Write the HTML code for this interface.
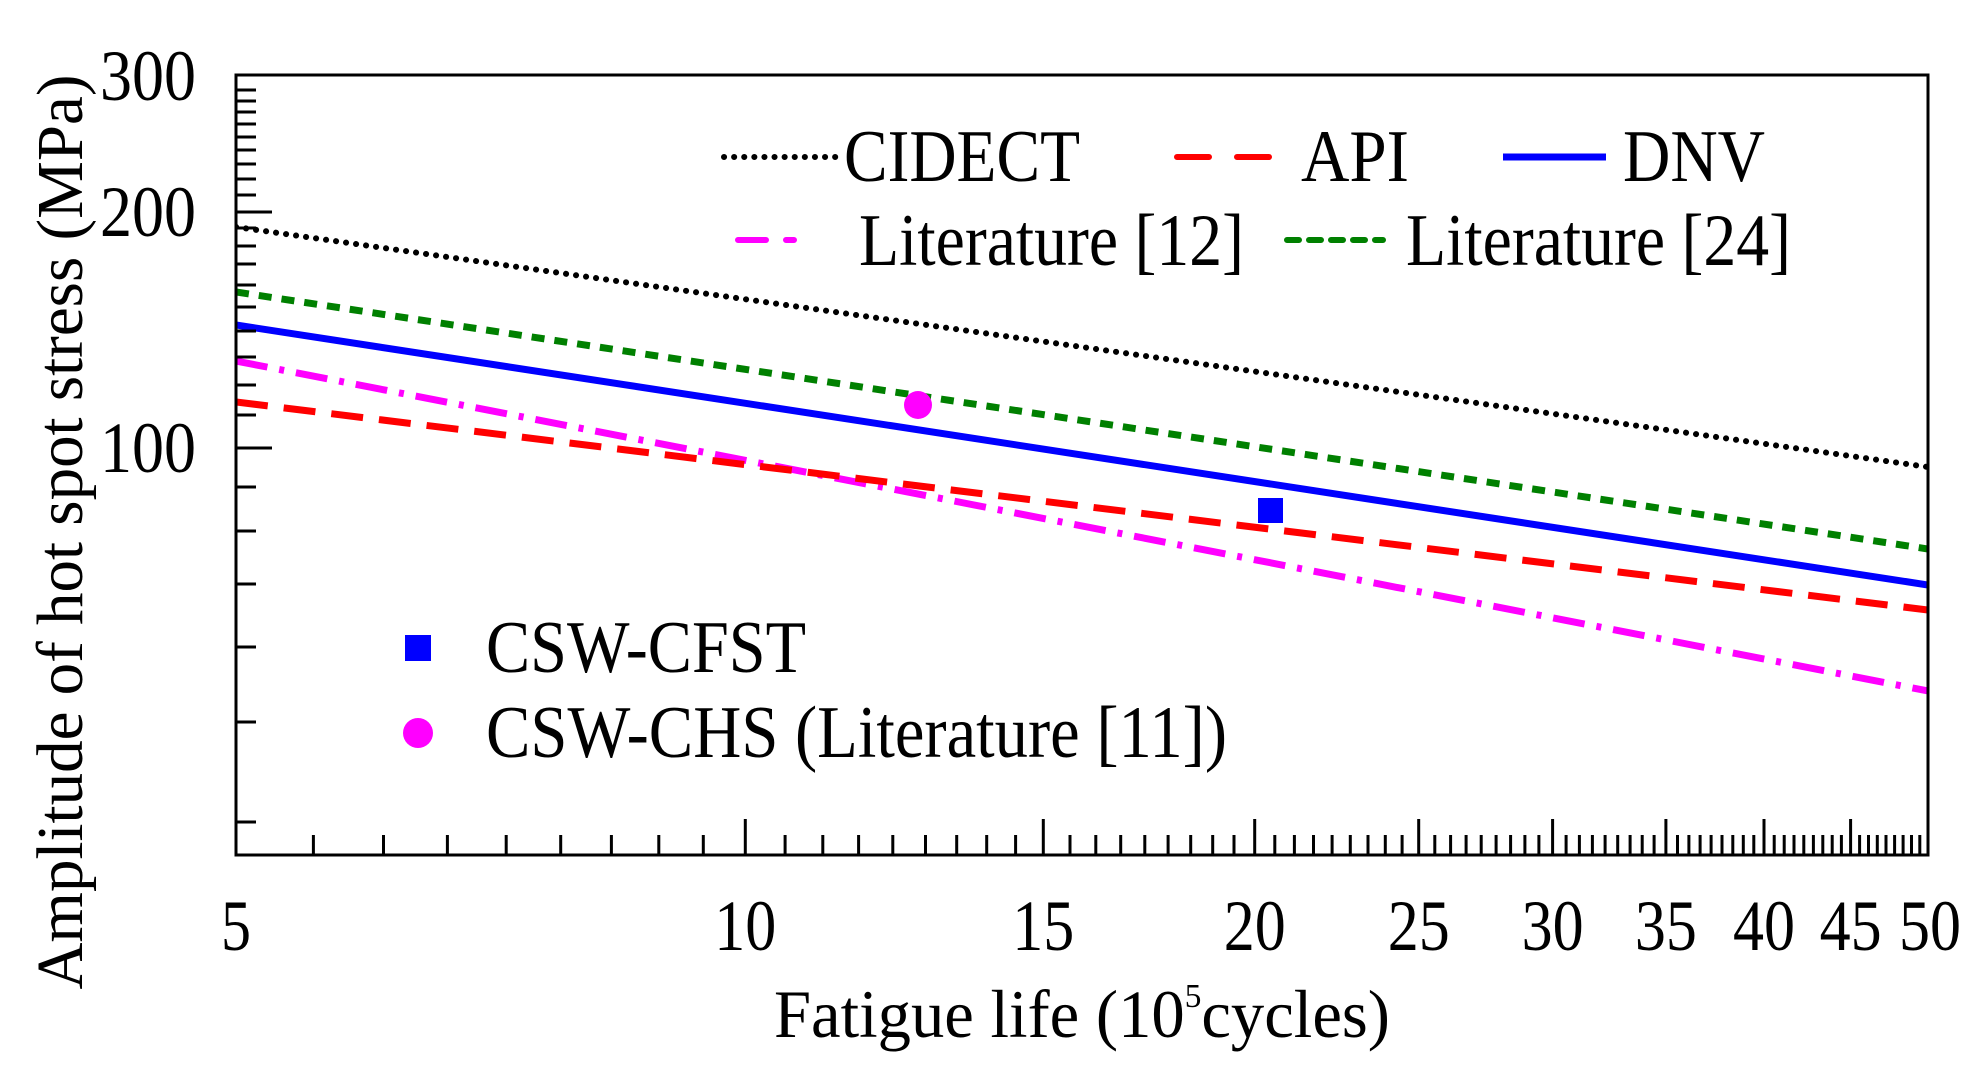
<!DOCTYPE html>
<html><head><meta charset="utf-8"><style>html,body{margin:0;padding:0;background:#fff}svg{display:block}</style></head>
<body>
<svg width="1980" height="1068" viewBox="0 0 1980 1068" xmlns="http://www.w3.org/2000/svg" font-family="Liberation Serif, serif" fill="#000">
<defs><clipPath id="c"><rect x="236" y="75" width="1692" height="780"/></clipPath></defs>
<g clip-path="url(#c)" fill="none" stroke-width="6">
<line x1="236" y1="227" x2="1928" y2="467" stroke="#000" stroke-dasharray="0.1 10" stroke-linecap="round" stroke-width="6"/>
<line x1="236" y1="292" x2="1928" y2="549" stroke="#008000" stroke-dasharray="13 10" stroke-width="7"/>
<line x1="236" y1="325" x2="1928" y2="585" stroke="#0000ff" stroke-width="7"/>
<line x1="236" y1="361" x2="1928" y2="691" stroke="#ff00ff" stroke-dasharray="32 12 5 12" stroke-width="7"/>
<line x1="236" y1="402" x2="1928" y2="610" stroke="#ff0000" stroke-dasharray="32 16" stroke-width="7"/>
</g>
<circle cx="918" cy="405" r="14" fill="#ff00ff"/>
<rect x="1258" y="498" width="25" height="25" fill="#0000ff"/>
<g stroke="#000" stroke-width="3">
<path d="M236 448h36M236 212h36
M236 487h20M236 531h20M236 584h20M236 647h20M236 722h20M236 822h20
M236 415h20M236 385h20M236 357h20M236 331h20M236 307h20M236 285h20M236 264h20M236 246h20M236 228h20
M236 195h20M236 179h20M236 164h20M236 150h20M236 137h20M236 124h20M236 112h20M236 101h20M236 90h20"/>
<path id="xt" d=""/>
</g>
<rect x="236" y="75" width="1692" height="780" fill="none" stroke="#000" stroke-width="3"/>
<g font-size="72" text-anchor="end">
<text x="196" y="100" textLength="96" lengthAdjust="spacingAndGlyphs">300</text>
<text x="196" y="236" textLength="96" lengthAdjust="spacingAndGlyphs">200</text>
<text x="196" y="472" textLength="96" lengthAdjust="spacingAndGlyphs">100</text>
</g>
<g font-size="72" id="xl"></g>
<text x="1082" y="1037" font-size="68" text-anchor="middle" textLength="616" lengthAdjust="spacingAndGlyphs">Fatigue life (10<tspan font-size="34" dy="-30">5</tspan><tspan dy="30">cycles)</tspan></text>
<text transform="translate(82,532) rotate(-90)" font-size="66" text-anchor="middle" textLength="915" lengthAdjust="spacingAndGlyphs">Amplitude of hot spot stress (MPa)</text>
<g fill="none" stroke-width="6">
<line x1="724" y1="157" x2="836" y2="157" stroke="#000" stroke-dasharray="0.1 10" stroke-linecap="round"/>
<line x1="1177" y1="157" x2="1269" y2="157" stroke="#ff0000" stroke-dasharray="32 28" stroke-linecap="round"/>
<line x1="1503" y1="157" x2="1606" y2="157" stroke="#0000ff" stroke-width="7"/>
<line x1="738" y1="240" x2="796" y2="240" stroke="#ff00ff" stroke-dasharray="28 20 8 40" stroke-linecap="round"/>
<line x1="1287" y1="240" x2="1383" y2="240" stroke="#008000" stroke-dasharray="12 10" stroke-linecap="round"/>
</g>
<g font-size="74">
<text x="844" y="181" textLength="236" lengthAdjust="spacingAndGlyphs">CIDECT</text>
<text x="1301" y="181" textLength="108" lengthAdjust="spacingAndGlyphs">API</text>
<text x="1623" y="181" textLength="142" lengthAdjust="spacingAndGlyphs">DNV</text>
<text x="859" y="265" textLength="385" lengthAdjust="spacingAndGlyphs">Literature [12]</text>
<text x="1406" y="265" textLength="385" lengthAdjust="spacingAndGlyphs">Literature [24]</text>
<text x="486" y="672" textLength="320" lengthAdjust="spacingAndGlyphs">CSW-CFST</text>
<text x="486" y="757" textLength="741" lengthAdjust="spacingAndGlyphs">CSW-CHS (Literature [11])</text>
</g>
<rect x="405" y="635" width="26" height="26" fill="#0000ff"/>
<circle cx="418" cy="733" r="15" fill="#ff00ff"/>
</svg>
<script>
(function(){
var d="",xl=document.getElementById("xl"),ns="http://www.w3.org/2000/svg";
function X(v){return 236+1692*Math.log10(v/5);}
for(var k=5;k<50;k+=5){for(var i=0;i<9;i++){var v=k+i*5/9;var x=X(v).toFixed(1);if(i==0){if(k>5)d+="M"+x+" 855v-36";}else d+="M"+x+" 855v-20";}}
document.getElementById("xt").setAttribute("d",d);
[5,10,15,20,25,30,35,40,45,50].forEach(function(v){var t=document.createElementNS(ns,"text");var x=X(v);if(v==50)x=1930;var w=(v<10)?30:62;t.setAttribute("x",(x-w/2).toFixed(1));t.setAttribute("y","950");t.setAttribute("textLength",w);t.setAttribute("lengthAdjust","spacingAndGlyphs");t.textContent=v;xl.appendChild(t);});
})();
</script>
</body></html>
